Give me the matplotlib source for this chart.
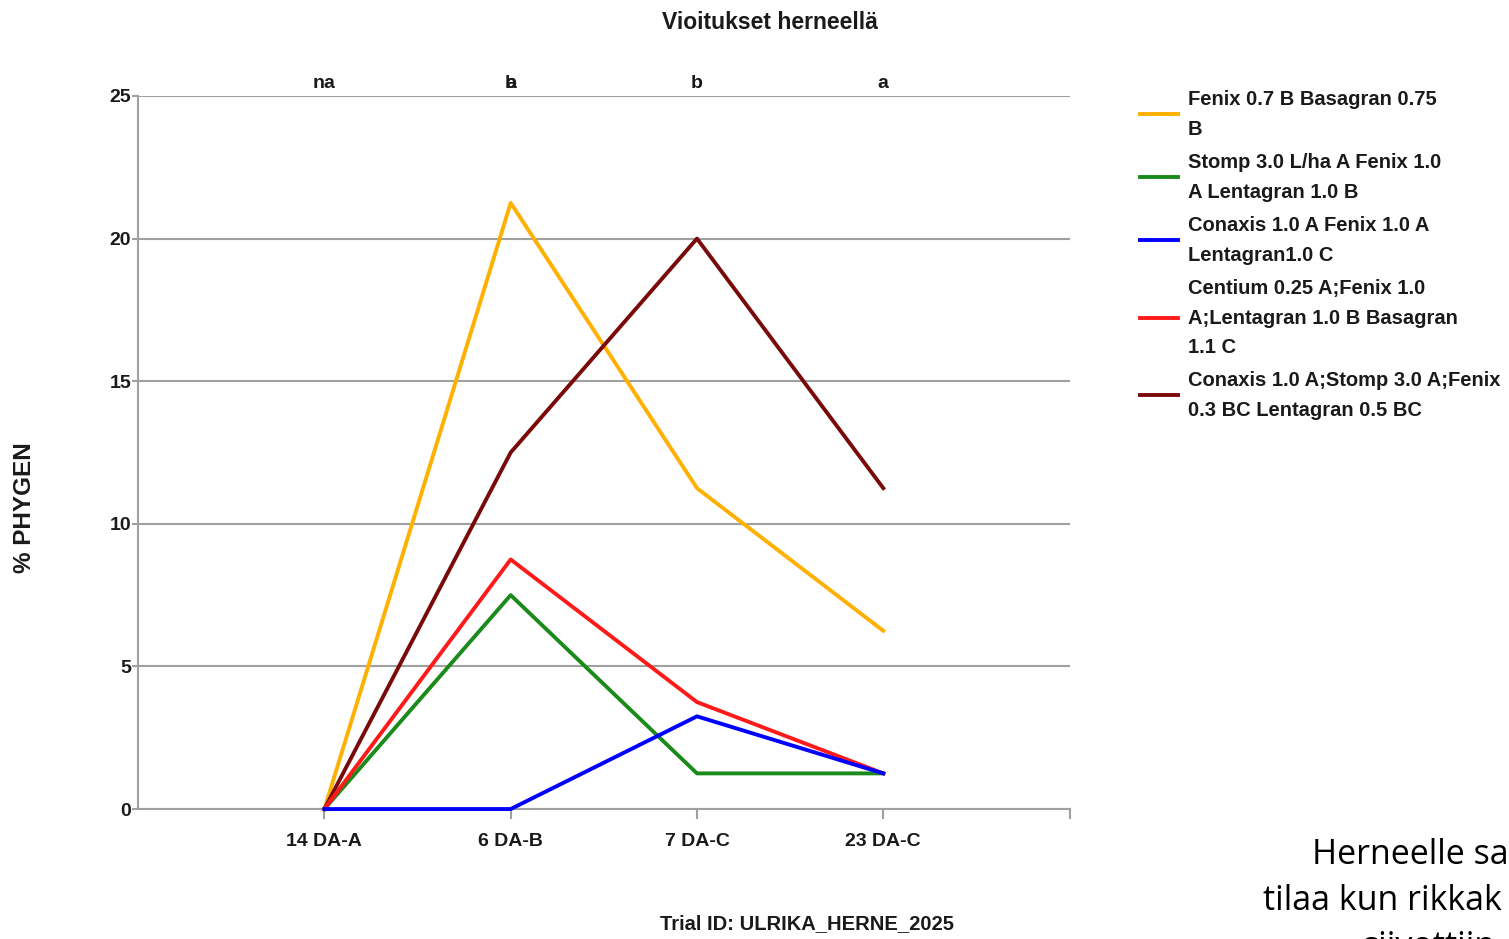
import matplotlib
matplotlib.use("Agg")
import matplotlib.pyplot as plt
from matplotlib.lines import Line2D
from matplotlib.transforms import blended_transform_factory

categories = ["14 DA-A", "6 DA-B", "7 DA-C", "23 DA-C"]
letters = [["na"], ["b", "a"], ["b"], ["a"]]

series_labels = [
    "Fenix 0.7 B Basagran 0.75\nB",
    "Stomp 3.0 L/ha A Fenix 1.0\nA Lentagran 1.0 B",
    "Conaxis 1.0 A Fenix 1.0 A\nLentagran1.0 C",
    "Centium 0.25 A;Fenix 1.0\nA;Lentagran 1.0 B Basagran\n1.1 C",
    "Conaxis 1.0 A;Stomp 3.0 A;Fenix\n0.3 BC Lentagran 0.5 BC",
]
fenix = [0, 21.25, 11.25, 6.25]
stomp = [0, 7.5, 1.25, 1.25]
conaxis = [0, 0, 3.25, 1.25]
centium = [0, 8.75, 3.75, 1.25]
conaxis_stomp = [0, 12.5, 20.0, 11.25]
series_values = [fenix, stomp, conaxis, centium, conaxis_stomp]
colors = ["#FFB000", "#1A8A1A", "#0000FF", "#FF1A1A", "#7A0A0A"]
zorders = [3, 3.2, 3.6, 3.3, 3.1]

plt.rcParams["font.family"] = ["Liberation Sans", "DejaVu Sans"]

W, H = 1509, 939
fig = plt.figure(figsize=(W / 100, H / 100), dpi=100)
ax = fig.add_axes([0.0915, 0.1384, 0.6173, 0.7594])

xs = list(range(len(categories)))
for vals, lab, col, z in zip(series_values, series_labels, colors, zorders):
    ax.plot(xs, vals, color=col, lw=2.8, label=lab, zorder=z, clip_on=False)

ax.set_xlim(-1, 4)
ax.set_ylim(0, 25)
ax.set_xticks(xs + [4])
ax.set_xticklabels(categories + [""], fontsize=14, fontweight="bold")
ax.set_yticks([0, 5, 10, 15, 20, 25])
ax.set_yticklabels(["0", "5", "10", "15", "20", "25"], fontsize=14, fontweight="bold")
ax.yaxis.grid(True, color="#A0A0A0", lw=1.5)
ax.set_axisbelow(True)
for s in ["top", "right"]:
    ax.spines[s].set_visible(False)
for s in ["left", "bottom"]:
    ax.spines[s].set_color("#A0A0A0")
    ax.spines[s].set_linewidth(1.5)
ax.tick_params(axis="both", colors="#A0A0A0", width=1.5, labelcolor="#1a1a1a")
ax.tick_params(axis="x", length=7, pad=10)
ax.tick_params(axis="y", length=4, pad=1)

trans = blended_transform_factory(ax.transData, ax.transAxes)
for x, labs in zip(xs, letters):
    for l in labs:
        ax.text(x, 1.006, l, transform=trans, ha="center", va="bottom",
                fontsize=14, fontweight="bold", color="#1a1a1a")

fig.text(0.51, 0.976, "Vioitukset herneellä", ha="center", va="center",
         fontsize=16.5, fontweight="bold", color="#1a1a1a")
fig.text(0.535, 0.016, "Trial ID: ULRIKA_HERNE_2025", ha="center", va="center",
         fontsize=14.5, fontweight="bold", color="#1a1a1a")
fig.text(0.016, 0.459, "% PHYGEN", rotation=90, ha="center", va="center",
         fontsize=17.5, fontweight="bold", color="#1a1a1a")

# legend (swatch + multi-line label), laid out in pixel units
line_px = 29.5
gap_px = 4.0
y_px = 98.0
for lab, col in zip(series_labels, colors):
    n = lab.count("\n") + 1
    yc = y_px + (n - 1) * line_px / 2
    fig.add_artist(Line2D([1140 / W, 1178 / W], [1 - (yc + 1) / H, 1 - (yc + 1) / H],
                          color=col, lw=2.8, transform=fig.transFigure))
    fig.text(1188 / W, 1 - (y_px - 8) / H, lab, ha="left", va="top",
             fontsize=14.5, fontweight="bold", color="#1a1a1a", linespacing=1.71)
    y_px += n * line_px + gap_px

side = ["Open Sans", "DejaVu Sans"]
fig.text(0.8695, 0.089, "Herneelle sa", ha="left", va="center",
         fontsize=24.5, family=side, color="black")
fig.text(0.837, 0.041, "tilaa kun rikkak", ha="left", va="center",
         fontsize=24.5, family=side, color="black")
fig.text(0.903, -0.009, "siivottiin", ha="left", va="center",
         fontsize=24.5, family=side, color="black")

fig.savefig("out.png", dpi=100)
